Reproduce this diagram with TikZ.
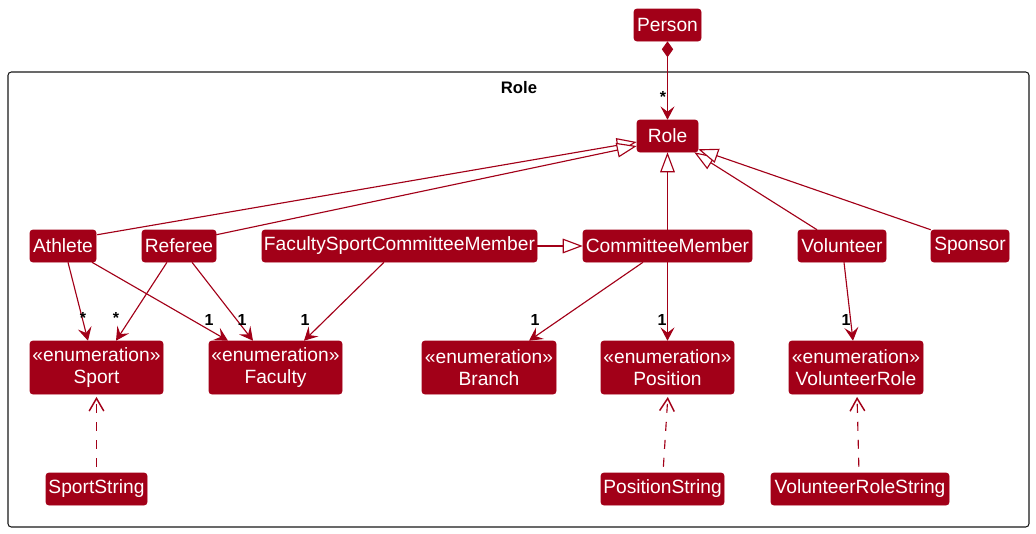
\documentclass[tikz,border=0pt]{standalone}
\usepackage{fontspec}
\setmainfont{Liberation Sans}
\usetikzlibrary{arrows.meta,calc}
\definecolor{umlred}{RGB}{162,0,24}
\definecolor{frameblack}{RGB}{24,24,24}
\newcommand{\umlbox}[6]{\node[umlbox, minimum width={(#4-#2)*0.75pt}, minimum height={(#5-#3)*0.75pt}] (#1) at ({(#2+#4)/2},{(#3+#5)/2}) {#6};}
\tikzset{
  umlbox/.style={fill=umlred, draw=umlred, rounded corners=2pt, text=white, inner sep=0pt, align=center, font=\fontsize{14.4}{16.2}\selectfont},
  conn/.style={draw=umlred, line width=0.85pt},
  assoc/.style={conn, -{Stealth[length=10pt,width=10.5pt,inset=4pt]}},
  gen/.style={conn, -{Triangle[open,length=15pt,width=11pt,fill=white]}},
  dep/.style={conn, dash pattern=on 6.75pt off 6.75pt, -{Straight Barb[length=9.5pt,width=11pt,line width=1.1pt]}, shorten <=4.5pt, shorten >=2pt},
  comp/.style={conn, {Diamond[length=12pt,width=8.5pt]}-{Stealth[length=10pt,width=10.5pt,inset=4pt]}},
  mult/.style={font=\fontsize{12}{12}\selectfont\bfseries, text=black, inner sep=0pt},
}
\begin{document}
\begin{tikzpicture}[x=0.75pt,y=-0.75pt]
\useasboundingbox (0,0) rectangle (1036,533);
% package frame
\draw[frameblack, line width=0.8pt, rounded corners=2.5pt] (8,72) rectangle (1029,527);
\node[font=\fontsize{12.5}{14}\selectfont\bfseries, inner sep=0pt] (title) at (519,88) {Role};
% nodes
\umlbox{person}{634}{9}{701}{41}{Person}
\umlbox{role}{637}{120}{698}{152}{Role}
\umlbox{athlete}{30}{230}{96}{262}{Athlete}
\umlbox{referee}{142}{230}{216}{262}{Referee}
\umlbox{fscm}{262}{230}{537}{262}{FacultySportCommitteeMember}
\umlbox{cm}{583}{230}{752}{262}{CommitteeMember}
\umlbox{volunteer}{798}{230}{886}{262}{Volunteer}
\umlbox{sponsor}{931}{230}{1009}{262}{Sponsor}
\umlbox{sport}{30}{341}{163}{394}{«enumeration»\\Sport}
\umlbox{faculty}{209}{341}{342}{394}{«enumeration»\\Faculty}
\umlbox{branch}{422}{341}{556}{394}{«enumeration»\\Branch}
\umlbox{position}{601}{341}{734}{394}{«enumeration»\\Position}
\umlbox{vrole}{789}{341}{923}{394}{«enumeration»\\VolunteerRole}
\umlbox{sportstring}{46}{473}{147}{505}{SportString}
\umlbox{positionstring}{601}{473}{724}{505}{PositionString}
\umlbox{vrolestring}{771}{473}{949}{505}{VolunteerRoleString}
% composition
\draw[comp] (person.south) -- (role.north);
\node[mult] (m0) at (663,97) {*};
% generalizations
\draw[gen] ($(athlete.north east)+(1,5)$) -- ($(role.west)+(0,6)$);
\draw[gen] ($(referee.north east)+(0,5)$) -- ($(role.west)+(0,10)$);
\draw[gen] (cm.north) -- (role.south);
\draw[gen] ($(volunteer.north)+(-25,0)$) -- ($(role.south east)+(-4,0)$);
\draw[gen] (sponsor.north west) -- ($(role.south east)+(0,-3)$);
\draw[gen] (fscm.east) -- (cm.west);
% associations
\draw[assoc] ($(athlete.south)+(5,0)$) -- ($(sport.north)+(-8.5,0)$);
\draw[assoc] ($(referee.south)+(-12,0)$) -- ($(sport.north)+(19.5,0)$);
\draw[assoc] ($(athlete.south)+(29,0)$) -- ($(faculty.north)+(-47.5,0)$);
\draw[assoc] ($(referee.south)+(13,0)$) -- ($(faculty.north)+(-22.5,0)$);
\draw[assoc] ($(fscm.south)+(-15.5,0)$) -- ($(faculty.north)+(28.5,0)$);
\draw[assoc] ($(cm.south)+(-24.5,0)$) -- ($(branch.north)+(40,0)$);
\draw[assoc] (cm.south) -- (position.north);
\draw[assoc] ($(volunteer.south)+(2,0)$) -- ($(vrole.north)+(-3,0)$);
\node[mult] (m1) at (83,318) {*};
\node[mult] (m2) at (116,318) {*};
\node[mult] (m3) at (209,320) {1};
\node[mult] (m4) at (242,320) {1};
\node[mult] (m5) at (305,320) {1};
\node[mult] (m6) at (535,320) {1};
\node[mult] (m7) at (662,320) {1};
\node[mult] (m8) at (846,320) {1};
% dependencies
\draw[dep] (sportstring.north) -- (sport.south);
\draw[dep] ($(positionstring.north)+(0.5,0)$) -- ($(position.south)+(0.5,0)$);
\draw[dep] ($(vrolestring.north)+(-1,0)$) -- ($(vrole.south)+(1,0)$);
\end{tikzpicture}
\end{document}
